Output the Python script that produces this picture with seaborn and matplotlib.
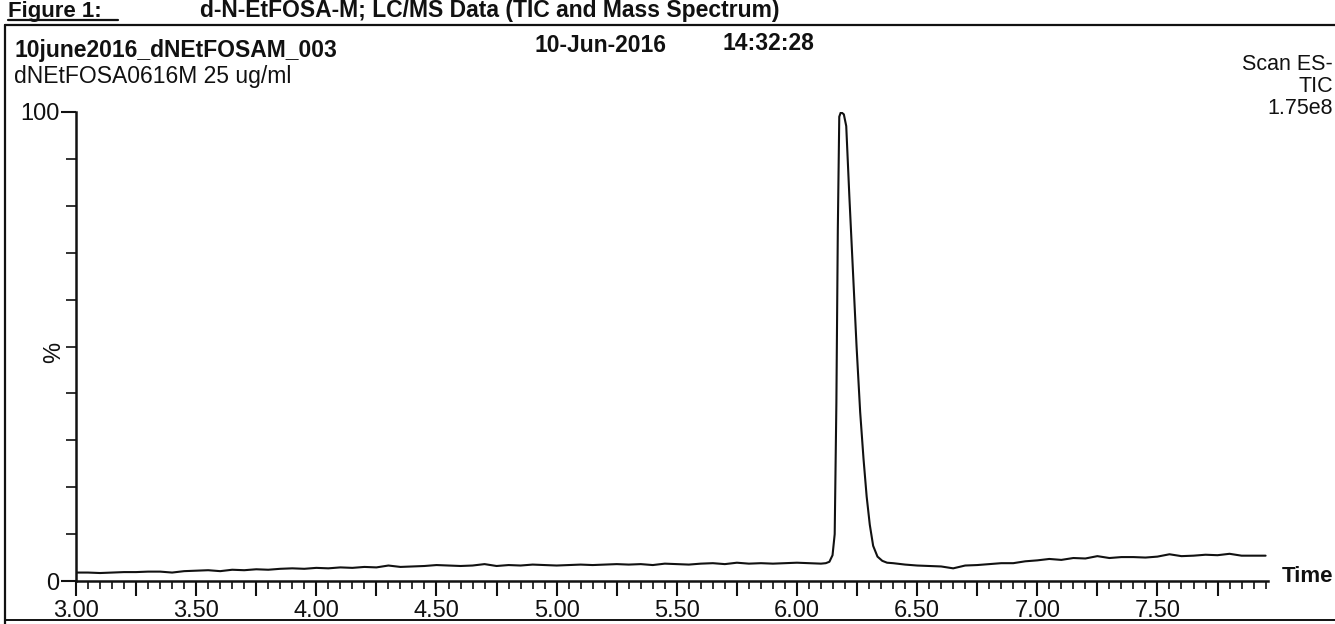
import matplotlib
matplotlib.use("Agg")
import matplotlib.pyplot as plt
import seaborn as sns
import pandas as pd
from matplotlib.ticker import FixedLocator, FuncFormatter
from matplotlib.lines import Line2D

# ---------------- data ----------------
time_before = [3.00, 3.05, 3.10, 3.15, 3.20, 3.25, 3.30, 3.35, 3.40, 3.45,
               3.50, 3.55, 3.60, 3.65, 3.70, 3.75, 3.80, 3.85, 3.90, 3.95,
               4.00, 4.05, 4.10, 4.15, 4.20, 4.25, 4.30, 4.35, 4.40, 4.45,
               4.50, 4.55, 4.60, 4.65, 4.70, 4.75, 4.80, 4.85, 4.90, 4.95,
               5.00, 5.05, 5.10, 5.15, 5.20, 5.25, 5.30, 5.35, 5.40, 5.45,
               5.50, 5.55, 5.60, 5.65, 5.70, 5.75, 5.80, 5.85, 5.90, 5.95,
               6.00, 6.05, 6.10]
pct_before = [1.8, 1.8, 1.7, 1.8, 1.9, 1.9, 2.0, 2.0, 1.8, 2.1,
              2.2, 2.3, 2.1, 2.4, 2.3, 2.5, 2.4, 2.6, 2.7, 2.6,
              2.8, 2.7, 2.9, 2.8, 3.0, 2.9, 3.3, 3.0, 3.1, 3.2,
              3.4, 3.3, 3.2, 3.3, 3.6, 3.2, 3.4, 3.3, 3.5, 3.4,
              3.3, 3.4, 3.5, 3.4, 3.5, 3.6, 3.5, 3.6, 3.4, 3.7,
              3.6, 3.5, 3.7, 3.8, 3.6, 3.9, 3.7, 3.8, 3.7, 3.8,
              3.9, 3.8, 3.7]

time_peak = [6.120, 6.135, 6.148, 6.157, 6.164, 6.170, 6.176, 6.183, 6.195,
             6.205, 6.218, 6.233, 6.248, 6.263, 6.277, 6.290, 6.303, 6.317,
             6.335, 6.355, 6.375, 6.400]
pct_peak = [3.8, 4.1, 5.5, 10.0, 38.0, 75.0, 99.0, 100.0, 99.5,
            97.0, 82.0, 66.0, 50.0, 36.0, 26.0, 18.0, 12.0, 7.5,
            5.2, 4.3, 3.9, 3.8]

time_after = [6.45, 6.50, 6.55, 6.60, 6.65, 6.70, 6.75, 6.80, 6.85, 6.90,
              6.95, 7.00, 7.05, 7.10, 7.15, 7.20, 7.25, 7.30, 7.35, 7.40,
              7.45, 7.50, 7.55, 7.60, 7.65, 7.70, 7.75, 7.80, 7.85, 7.90,
              7.95]
pct_after = [3.5, 3.3, 3.2, 3.1, 2.7, 3.3, 3.4, 3.6, 3.8, 3.8,
             4.2, 4.4, 4.7, 4.5, 4.9, 4.8, 5.3, 4.9, 5.1, 5.1,
             5.0, 5.2, 5.7, 5.3, 5.4, 5.6, 5.5, 5.8, 5.4, 5.4,
             5.4]

x_major_labels = ["3.00", "3.50", "4.00", "4.50", "5.00", "5.50", "6.00", "6.50", "7.00", "7.50"]
x_label_values = [3.0, 3.5, 4.0, 4.5, 5.0, 5.5, 6.0, 6.5, 7.0, 7.5]

df = pd.DataFrame({"Time": time_before + time_peak + time_after,
                   "Pct": pct_before + pct_peak + pct_after})

# ---------------- figure ----------------
W, H = 1335, 624
sns.set_style("white")
plt.rcParams["font.family"] = ["Liberation Sans", "DejaVu Sans"]

fig = plt.figure(figsize=(W / 100, H / 100), dpi=100)
fig.patch.set_facecolor("white")

def fx(px):
    return px / W

def fy(py):
    return 1 - py / H

ax_l, ax_r, ax_t, ax_b = 76, 1268, 112, 581
ax = fig.add_axes([fx(ax_l), fy(ax_b), (ax_r - ax_l) / W, (ax_b - ax_t) / H])
ax.set_facecolor("none")

sns.lineplot(data=df, x="Time", y="Pct", ax=ax, color="#111111",
             linewidth=1.5, estimator=None, sort=False)

ax.set_xlim(3.0, 7.96)
ax.set_ylim(0, 100)

for s in ["top", "right"]:
    ax.spines[s].set_visible(False)
for s in ["left", "bottom"]:
    ax.spines[s].set_linewidth(1.8)
    ax.spines[s].set_color("#111111")

# x ticks: long every 0.25 (labels at 0.5), short every 0.05
x_long = [3.0 + 0.25 * i for i in range(20)]
x_short = [3.0 + 0.05 * i for i in range(100) if i % 5 != 0]
ax.xaxis.set_major_locator(FixedLocator(x_long))
ax.xaxis.set_minor_locator(FixedLocator(x_short))
lab = dict(zip([round(v, 2) for v in x_label_values], x_major_labels))
ax.xaxis.set_major_formatter(FuncFormatter(lambda v, p: lab.get(round(v, 2), "")))
ax.tick_params(axis="x", which="major", direction="out", length=11, width=1.5,
               labelsize=17, pad=3, colors="#111111", bottom=True)
ax.tick_params(axis="x", which="minor", direction="out", length=6, width=1.2,
               colors="#111111", bottom=True)

# y ticks
ax.yaxis.set_major_locator(FixedLocator([0, 100]))
ax.yaxis.set_minor_locator(FixedLocator([10, 20, 30, 40, 50, 60, 70, 80, 90]))
ax.yaxis.set_major_formatter(FuncFormatter(lambda v, p: f"{int(v)}"))
ax.tick_params(axis="y", which="major", direction="out", length=11, width=1.5,
               labelsize=17, pad=1, colors="#111111", left=True)
ax.tick_params(axis="y", which="minor", direction="out", length=7, width=1.2,
               colors="#111111", left=True)
ax.set_xlabel("")
ax.set_ylabel("")

# "%" axis label, placed beside the 50 % tick
fig.text(fx(54), fy(352), "%", fontsize=17, rotation=90,
         ha="center", va="center", color="#111111")

# "Time" label at the right end of the x axis
fig.text(fx(1282), fy(576), "Time", fontsize=16, fontweight="bold",
         ha="left", va="center", color="#111111")

# ---------------- page furniture ----------------
# box
fig.add_artist(Line2D([fx(5), fx(1335)], [fy(25), fy(25)], color="#111111", lw=1.6))
fig.add_artist(Line2D([fx(5), fx(5)], [fy(25), fy(624)], color="#111111", lw=1.6))
fig.add_artist(Line2D([fx(5), fx(1335)], [fy(620), fy(620)], color="#111111", lw=1.4))

# title row
fig.text(fx(8), fy(17), "Figure 1:", fontsize=16, fontweight="bold",
         ha="left", va="baseline", color="#111111")
fig.add_artist(Line2D([fx(8), fx(118)], [fy(20), fy(20)], color="#111111", lw=1.6))
fig.text(fx(200), fy(17), "d-N-EtFOSA-M; LC/MS Data (TIC and Mass Spectrum)",
         fontsize=16.5, fontweight="bold", ha="left", va="baseline", color="#111111")

# header
fig.text(fx(14), fy(51), "10june2016_dNEtFOSAM_003", fontsize=16.5,
         fontweight="bold", ha="left", va="center", color="#111111")
fig.text(fx(535), fy(46), "10-Jun-2016", fontsize=16.5, fontweight="bold",
         ha="left", va="center", color="#111111")
fig.text(fx(722), fy(44), "14:32:28", fontsize=16.5, fontweight="bold",
         ha="left", va="center", color="#111111")
fig.text(fx(14), fy(76), "dNEtFOSA0616M 25 ug/ml", fontsize=16.5,
         ha="left", va="center", color="#111111")

fig.text(fx(1333), fy(64), "Scan ES-", fontsize=15.5, ha="right", va="center", color="#111111")
fig.text(fx(1333), fy(86), "TIC", fontsize=15.5, ha="right", va="center", color="#111111")
fig.text(fx(1333), fy(108), "1.75e8", fontsize=15.5, ha="right", va="center", color="#111111")

fig.savefig("out.png", dpi=100)
